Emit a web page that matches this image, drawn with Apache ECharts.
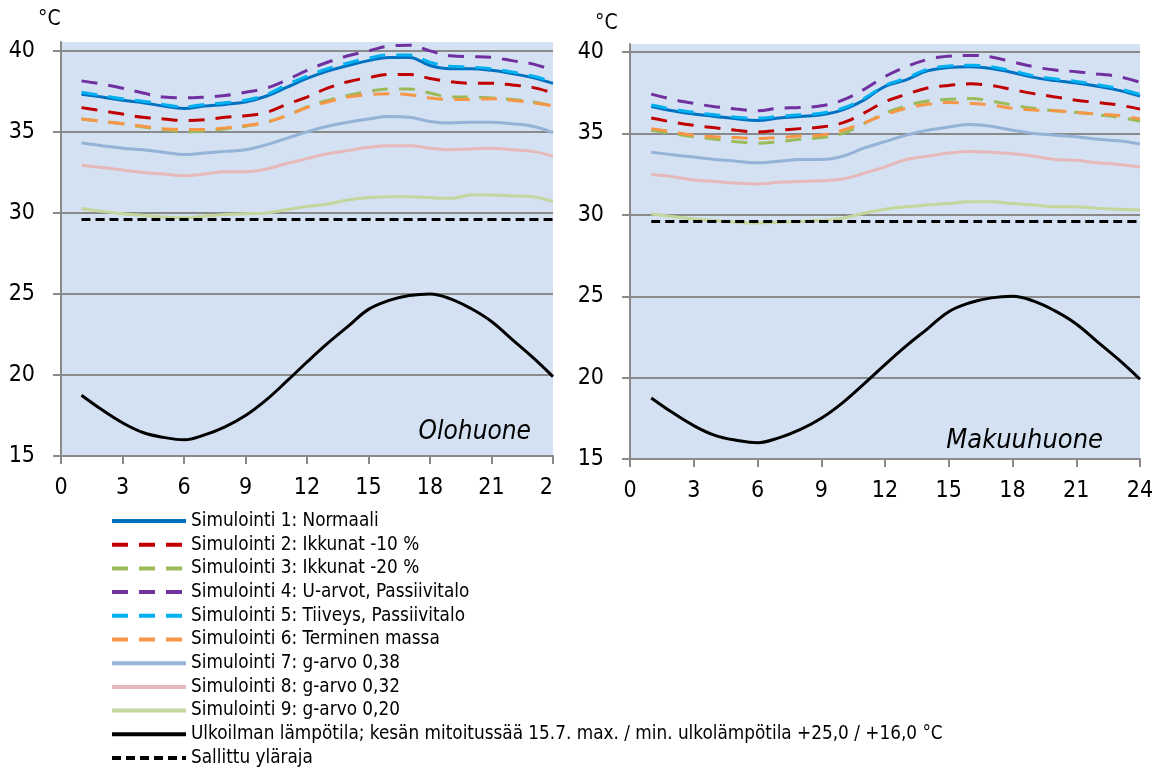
<!DOCTYPE html>
<html>
<head>
    <meta charset="utf-8">
    <script src="https://cdn.jsdelivr.net/npm/echarts@6/dist/echarts.min.js"></script>
    <style>
        body { margin: 0; background: #fff; }
        #main { width: 1164px; height: 772px; }
    </style>
</head>
<body>
<div id="main"></div>
<script type="text/javascript">
    var hours = [1,2,3,4,5,6,7,8,9,10,11,12,13,14,15,16,17,18,19,20,21,22,23,24];
    var xTicks = [0,3,6,9,12,15,18,21,24];
    var yTicks = [15,20,25,30,35,40];

    var names = [
        'Simulointi 1: Normaali',
        'Simulointi 2: Ikkunat -10 %',
        'Simulointi 3: Ikkunat -20 %',
        'Simulointi 4: U-arvot, Passiivitalo',
        'Simulointi 5: Tiiveys, Passiivitalo',
        'Simulointi 6: Terminen massa',
        'Simulointi 7: g-arvo 0,38',
        'Simulointi 8: g-arvo 0,32',
        'Simulointi 9: g-arvo 0,20',
        'Ulkoilman lämpötila; kesän mitoitussää 15.7. max. / min. ulkolämpötila +25,0 / +16,0 °C',
        'Sallittu yläraja'
    ];
    var roomNames = ['Olohuone', 'Makuuhuone'];

    // Olohuone
    var oloS1 = [37.33,37.15,36.95,36.8,36.6,36.45,36.6,36.7,36.85,37.2,37.75,38.3,38.75,39.1,39.4,39.6,39.6,39.1,38.9,38.9,38.8,38.6,38.35,38.0];
    var oloS2 = [36.5,36.3,36.1,35.9,35.8,35.7,35.75,35.9,36.0,36.2,36.7,37.15,37.7,38.1,38.35,38.55,38.55,38.3,38.1,38.0,38.0,37.9,37.75,37.4];
    var oloS3 = [35.8,35.65,35.5,35.3,35.15,35.0,35.05,35.2,35.35,35.6,36.0,36.55,36.95,37.25,37.5,37.65,37.65,37.4,37.15,37.15,37.1,37.0,36.85,36.6];
    var oloS4 = [38.15,37.95,37.7,37.4,37.15,37.1,37.15,37.25,37.45,37.7,38.2,38.8,39.3,39.7,40.0,40.3,40.35,40.0,39.7,39.65,39.6,39.4,39.2,38.8];
    var oloS5 = [37.45,37.25,37.05,36.9,36.7,36.55,36.7,36.8,36.95,37.3,37.9,38.45,38.9,39.25,39.55,39.75,39.75,39.3,39.05,39.0,38.9,38.7,38.45,38.1];
    var oloS6 = [35.8,35.65,35.5,35.35,35.2,35.15,35.15,35.25,35.4,35.6,36.0,36.5,36.85,37.15,37.3,37.35,37.3,37.1,37.0,37.0,37.05,36.95,36.8,36.6];
    var oloS7 = [34.32,34.15,34.0,33.9,33.75,33.6,33.7,33.8,33.9,34.2,34.6,35.0,35.35,35.6,35.8,35.95,35.9,35.65,35.55,35.6,35.6,35.5,35.35,34.95];
    var oloS8 = [32.95,32.8,32.65,32.5,32.4,32.3,32.4,32.55,32.55,32.7,33.05,33.35,33.65,33.85,34.05,34.15,34.15,34.0,33.9,33.95,34.0,33.9,33.8,33.5];
    var oloS9 = [30.27,30.1,29.95,29.85,29.75,29.7,29.8,29.9,29.95,30.0,30.2,30.4,30.55,30.8,30.95,31.0,31.0,30.95,30.9,31.1,31.1,31.05,31.0,30.7];

    // Makuuhuone
    var makuS1 = [36.66,36.4,36.2,36.05,35.9,35.8,35.95,36.05,36.15,36.45,37.05,37.9,38.3,38.85,39.05,39.1,39.0,38.75,38.45,38.25,38.1,37.9,37.65,37.3];
    var makuS2 = [35.95,35.7,35.5,35.35,35.2,35.1,35.2,35.3,35.4,35.65,36.25,36.95,37.4,37.8,37.95,38.05,37.95,37.7,37.45,37.25,37.05,36.9,36.75,36.5];
    var makuS3 = [35.2,35.0,34.8,34.65,34.5,34.4,34.5,34.65,34.75,35.0,35.6,36.25,36.7,37.0,37.1,37.15,37.0,36.75,36.55,36.4,36.3,36.15,36.0,35.75];
    var makuS4 = [37.42,37.1,36.85,36.65,36.5,36.4,36.55,36.6,36.7,37.05,37.7,38.5,39.1,39.55,39.75,39.8,39.7,39.4,39.1,38.9,38.8,38.65,38.5,38.15];
    var makuS5 = [36.75,36.5,36.3,36.15,36.0,35.95,36.05,36.15,36.25,36.55,37.15,37.95,38.4,38.95,39.15,39.2,39.1,38.85,38.55,38.35,38.2,38.0,37.75,37.4];
    var makuS6 = [35.3,35.1,34.9,34.8,34.75,34.7,34.75,34.85,34.9,35.2,35.65,36.15,36.55,36.8,36.9,36.85,36.75,36.55,36.45,36.4,36.3,36.2,36.1,35.9];
    var makuS7 = [33.85,33.7,33.55,33.4,33.3,33.2,33.3,33.4,33.4,33.6,34.1,34.5,34.9,35.2,35.4,35.55,35.45,35.2,35.0,34.9,34.8,34.65,34.55,34.35];
    var makuS8 = [32.5,32.35,32.15,32.05,31.95,31.9,32.0,32.05,32.1,32.2,32.55,32.95,33.4,33.6,33.8,33.9,33.85,33.75,33.6,33.4,33.35,33.2,33.1,32.95];
    var makuS9 = [30.05,29.9,29.75,29.65,29.55,29.5,29.55,29.6,29.65,29.8,30.1,30.35,30.5,30.6,30.7,30.8,30.8,30.7,30.6,30.5,30.5,30.4,30.35,30.3];

    // ulkolämpötila ja raja, samat molemmissa
    var outdoor = [18.75,17.85,17.05,16.45,16.15,16.0,16.3,16.8,17.5,18.45,19.6,20.8,21.95,23.0,24.05,24.6,24.9,25.0,24.7,24.1,23.3,22.2,21.1,19.9];
    var allowed = [29.6,29.6,29.6,29.6,29.6,29.6,29.6,29.6,29.6,29.6,29.6,29.6,29.6,29.6,29.6,29.6,29.6,29.6,29.6,29.6,29.6,29.6,29.6,29.6];

    var styles = [
        {color: '#0070C0', type: 'solid'},
        {color: '#C00000', type: [16, 11]},
        {color: '#9BBB59', type: [16, 11]},
        {color: '#7030A0', type: [16, 11]},
        {color: '#00B0F0', type: [16, 11]},
        {color: '#F79646', type: [16, 11]},
        {color: '#95B3D7', type: 'solid'},
        {color: '#E6B9B8', type: 'solid'},
        {color: '#C3D69B', type: 'solid'},
        {color: '#000000', type: 'solid'},
        {color: '#000000', type: [9, 5]}
    ];

    var font = 'DejaVu Sans Condensed';

    function pairs(arr) {
        return hours.map(function (h, i) { return [h, arr[i]]; });
    }

    function buildSeries(lists, idx) {
        return lists.map(function (arr, i) {
            return {
                name: names[i],
                type: 'line',
                xAxisIndex: idx,
                yAxisIndex: idx,
                data: pairs(arr),
                symbol: 'none',
                smooth: 0.4,
                silent: true,
                color: styles[i].color,
                lineStyle: {color: styles[i].color, width: 3, type: styles[i].type}
            };
        });
    }

    function xAxis(idx) {
        return {
            type: 'value', gridIndex: idx, min: 0, max: 24, interval: 3,
            axisLine: {lineStyle: {color: '#8a8a8a', width: 2}},
            axisTick: {show: true, length: 8, lineStyle: {color: '#8a8a8a', width: 2}},
            axisLabel: {color: '#000', fontFamily: font, fontSize: 23, margin: 21,
                customValues: xTicks},
            splitLine: {show: false}
        };
    }

    function yAxis(idx, max) {
        return {
            type: 'value', gridIndex: idx, min: 15, max: max, interval: 5,
            axisLine: {show: true, lineStyle: {color: '#8a8a8a', width: 2}},
            axisTick: {show: true, length: 8, lineStyle: {color: '#8a8a8a', width: 2},
                customValues: yTicks},
            axisLabel: {color: '#000', fontFamily: font, fontSize: 23, margin: 26,
                customValues: yTicks},
            splitLine: {show: true, lineStyle: {color: '#8a8a8a', width: 2}}
        };
    }

    var series = buildSeries([oloS1, oloS2, oloS3, oloS4, oloS5, oloS6, oloS7, oloS8, oloS9, outdoor, allowed], 0)
        .concat(buildSeries([makuS1, makuS2, makuS3, makuS4, makuS5, makuS6, makuS7, makuS8, makuS9, outdoor, allowed], 1));

    var myChart = echarts.init(document.getElementById('main'), null, {renderer: 'canvas'});
    var option = {
        animation: false,
        backgroundColor: '#ffffff',
        grid: [
            {left: 61, top: 42, width: 492, height: 414, show: true,
                backgroundColor: '#D3E1F3', borderWidth: 0},
            {left: 630, top: 44, width: 510, height: 415, show: true,
                backgroundColor: '#D3E1F3', borderWidth: 0}
        ],
        xAxis: [xAxis(0), xAxis(1)],
        yAxis: [yAxis(0, 40.55), yAxis(1, 40.5)],
        legend: {
            orient: 'vertical',
            left: 110,
            top: 511,
            height: 261,
            padding: 0,
            itemWidth: 74,
            itemHeight: 20,
            itemGap: 3.7,
            data: names,
            selectedMode: false,
            itemStyle: {opacity: 0},
            lineStyle: {width: 4},
            textStyle: {color: '#000', fontFamily: font, fontSize: 18.8, lineHeight: 20}
        },
        graphic: [
            {type: 'text', left: 38, top: 9, z: 10,
                style: {text: '°C', fill: '#000', font: '21px "' + font + '"'}},
            {type: 'text', left: 595, top: 13, z: 10,
                style: {text: '°C', fill: '#000', font: '21px "' + font + '"'}},
            {type: 'text', right: 1164 - 531, top: 419, z: 10,
                style: {text: roomNames[0], fill: '#000', font: 'italic 26px "' + font + '"'}},
            {type: 'text', right: 1164 - 1103, top: 427, z: 10,
                style: {text: roomNames[1], fill: '#000', font: 'italic 27px "' + font + '"'}},
            // oikea kaavio peittää vasemman reunan
            {type: 'rect', left: 554, top: 468, z: 100,
                shape: {width: 19, height: 40}, style: {fill: '#ffffff'}}
        ],
        series: series
    };
    myChart.setOption(option);
</script>
</body>
</html>
